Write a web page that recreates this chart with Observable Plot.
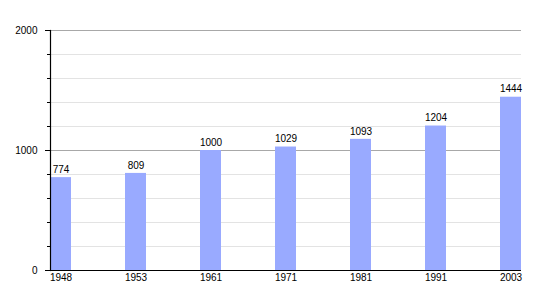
<!DOCTYPE html>
<html>
<head>
<meta charset="utf-8">
<script src="https://cdn.jsdelivr.net/npm/d3@7"></script>
<script src="https://cdn.jsdelivr.net/npm/@observablehq/plot@0.6"></script>
<style>
  html, body { margin: 0; padding: 0; background: #fff; }
  #chart svg { font-family: "Liberation Sans", Arial, sans-serif; }
</style>
</head>
<body>
<div id="chart"></div>
<script>
const years = ["1948", "1953", "1961", "1971", "1981", "1991", "2003"];
const population = [774, 809, 1000, 1029, 1093, 1204, 1444];
const majorTicks = [0, 1000, 2000];
const minorTicks = [200, 400, 600, 800, 1200, 1400, 1600, 1800];

const data = years.map((y, i) => ({year: y, value: population[i]}));

const chart = Plot.plot({
  width: 550,
  height: 300,
  marginLeft: 50,
  marginRight: 29,
  marginTop: 30,
  marginBottom: 30,
  style: {fontSize: "10px", fontFamily: "'Liberation Sans', Arial, sans-serif", background: "#fff", color: "#000"},
  x: {domain: years, paddingInner: 0.72, paddingOuter: 0, align: 0, label: null},
  y: {domain: [0, 2000], label: null},
  marks: [
    Plot.ruleY(minorTicks, {stroke: "#e3e3e3", strokeWidth: 1}),
    Plot.ruleY([1000, 2000], {stroke: "#a8a8a8", strokeWidth: 1}),
    Plot.barY(data, {x: "year", y: "value", fill: "#99aaff"}),
    Plot.text(data, {x: "year", y: "value", text: d => String(d.value), dy: -8, fill: "#000"}),
    Plot.ruleY([0], {stroke: "#000", strokeWidth: 1.2}),
    Plot.frame({anchor: "left", stroke: "#000", strokeWidth: 1.2}),
    Plot.axisY({ticks: majorTicks, tickSize: 5, tickPadding: 8, tickFormat: d => String(d), label: null}),
    Plot.axisY({ticks: minorTicks, tickSize: 3, tickFormat: () => "", label: null}),
    Plot.axisX({tickSize: 0, tickPadding: 3, label: null})
  ]
});
document.getElementById("chart").appendChild(chart);
</script>
</body>
</html>
